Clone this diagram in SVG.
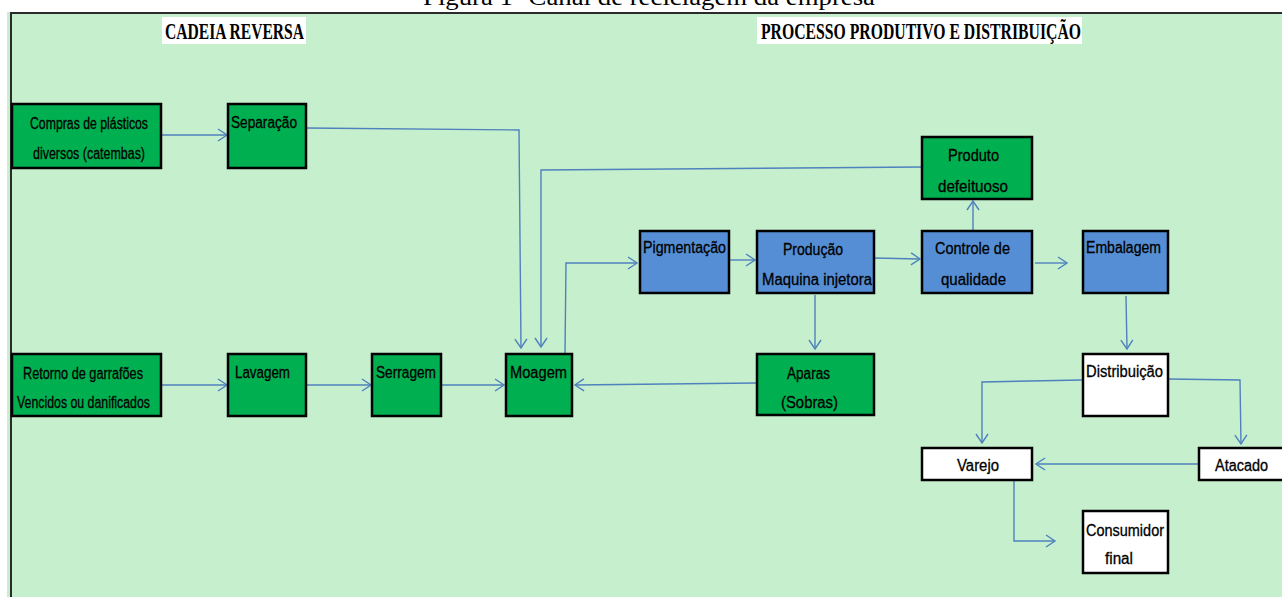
<svg xmlns="http://www.w3.org/2000/svg" width="1282" height="597" viewBox="0 0 1282 597">
<defs>
<style>
.bg{fill:#C6EFCE}
.frame{stroke:#2b2b2b;stroke-width:2;fill:none}
.box{stroke:#000;stroke-width:2.5}
.g{fill:#00B050}
.b{fill:#558ED5}
.w{fill:#FFFFFF}
.t{font-family:"Liberation Sans",Arial,sans-serif;font-size:16px;fill:#000;stroke:#000;stroke-width:0.3}
.h{font-family:"Liberation Serif","Times New Roman",serif;font-size:23px;font-weight:bold;fill:#000}
.cap{font-family:"Liberation Serif","Times New Roman",serif;font-size:24px;fill:#000}
.c{stroke:#4F81BD;stroke-width:1.4;fill:none;marker-end:url(#arr)}
</style>
<marker id="arr" markerUnits="userSpaceOnUse" markerWidth="14" markerHeight="14" refX="11" refY="7" orient="auto">
<path d="M2,1 L11,7 L2,13" fill="none" stroke="#4F81BD" stroke-width="1.4"/>
</marker>
</defs>
<rect x="0" y="0" width="1282" height="597" fill="#FFFFFF"/>
<text class="cap" x="423" y="5" textLength="452" lengthAdjust="spacingAndGlyphs">Figura 1- Canal de reciclagem da empresa</text>
<rect class="bg" x="7" y="12" width="1275" height="585"/>
<path class="frame" d="M11,597 V13 H1282"/>
<g id="header-cadeia">
<rect x="162" y="17" width="144" height="27" fill="#FFFFFF"/>
<text class="h" x="165" y="39" textLength="139" lengthAdjust="spacingAndGlyphs">CADEIA REVERSA</text>
</g>
<g id="header-processo">
<rect x="757" y="17" width="325" height="27" fill="#FFFFFF"/>
<text class="h" x="761" y="39" textLength="320" lengthAdjust="spacingAndGlyphs">PROCESSO PRODUTIVO E DISTRIBUIÇÃO</text>
</g>
<g id="connectors">
<path class="c" d="M162,135 L227,135"/>
<path class="c" d="M306,128 L519,130 L521,348"/>
<path class="c" d="M921,167 L541,170 L541,347"/>
<path class="c" d="M565,353 L566,263 L637,263"/>
<path class="c" d="M162,385 L227,385"/>
<path class="c" d="M306,385 L371,385"/>
<path class="c" d="M441,385 L504,385"/>
<path class="c" d="M756,383 L575,385"/>
<path class="c" d="M729,260 L755,260"/>
<path class="c" d="M874,258 L920,259"/>
<path class="c" d="M973,230 L973,201"/>
<path class="c" d="M1035,263 L1067,263"/>
<path class="c" d="M815,295 L815,349"/>
<path class="c" d="M1126,296 L1127,349"/>
<path class="c" d="M1082,380 L982,382 L982,443"/>
<path class="c" d="M1168,379 L1240,380 L1241,444"/>
<path class="c" d="M1199,464 L1036,464"/>
<path class="c" d="M973,480 L1014,480 L1014,541 L1055,541"/>
</g>
<g id="compras">
<rect class="box g" x="12" y="104" width="149" height="64"/>
<text class="t" x="30" y="129" textLength="118" lengthAdjust="spacingAndGlyphs">Compras de plásticos</text>
<text class="t" x="33" y="159" textLength="112" lengthAdjust="spacingAndGlyphs">diversos (catembas)</text>
</g>
<g id="separacao">
<rect class="box g" x="228" y="104" width="78" height="64"/>
<text class="t" x="231" y="128" textLength="66" lengthAdjust="spacingAndGlyphs">Separação</text>
</g>
<g id="retorno">
<rect class="box g" x="12" y="354" width="149" height="62"/>
<text class="t" x="23" y="379" textLength="120" lengthAdjust="spacingAndGlyphs">Retorno de garrafões</text>
<text class="t" x="17" y="408" textLength="133" lengthAdjust="spacingAndGlyphs">Vencidos ou danificados</text>
</g>
<g id="lavagem">
<rect class="box g" x="228" y="354" width="78" height="62"/>
<text class="t" x="235" y="378" textLength="55" lengthAdjust="spacingAndGlyphs">Lavagem</text>
</g>
<g id="serragem">
<rect class="box g" x="372" y="354" width="69" height="62"/>
<text class="t" x="376" y="378" textLength="60" lengthAdjust="spacingAndGlyphs">Serragem</text>
</g>
<g id="moagem">
<rect class="box g" x="506" y="354" width="66" height="62"/>
<text class="t" x="510" y="378" textLength="57" lengthAdjust="spacingAndGlyphs">Moagem</text>
</g>
<g id="pigmentacao">
<rect class="box b" x="640" y="231" width="89" height="62"/>
<text class="t" x="643" y="253" textLength="83" lengthAdjust="spacingAndGlyphs">Pigmentação</text>
</g>
<g id="producao">
<rect class="box b" x="757" y="231" width="117" height="62"/>
<text class="t" x="783" y="255" textLength="60" lengthAdjust="spacingAndGlyphs">Produção</text>
<text class="t" x="762" y="285" textLength="110" lengthAdjust="spacingAndGlyphs">Maquina injetora</text>
</g>
<g id="controle">
<rect class="box b" x="922" y="231" width="110" height="62"/>
<text class="t" x="935" y="254" textLength="75" lengthAdjust="spacingAndGlyphs">Controle de</text>
<text class="t" x="941" y="285" textLength="65" lengthAdjust="spacingAndGlyphs">qualidade</text>
</g>
<g id="embalagem">
<rect class="box b" x="1083" y="231" width="85" height="62"/>
<text class="t" x="1086" y="253" textLength="75" lengthAdjust="spacingAndGlyphs">Embalagem</text>
</g>
<g id="produto-defeituoso">
<rect class="box g" x="922" y="137" width="110" height="62"/>
<text class="t" x="948" y="161" textLength="51" lengthAdjust="spacingAndGlyphs">Produto</text>
<text class="t" x="938" y="192" textLength="70" lengthAdjust="spacingAndGlyphs">defeituoso</text>
</g>
<g id="aparas">
<rect class="box g" x="757" y="354" width="117" height="61"/>
<text class="t" x="787" y="379" textLength="43" lengthAdjust="spacingAndGlyphs">Aparas</text>
<text class="t" x="781" y="408" textLength="57" lengthAdjust="spacingAndGlyphs">(Sobras)</text>
</g>
<g id="distribuicao">
<rect class="box w" x="1083" y="354" width="85" height="62"/>
<text class="t" x="1086" y="377" textLength="77" lengthAdjust="spacingAndGlyphs">Distribuição</text>
</g>
<g id="varejo">
<rect class="box w" x="922" y="448" width="110" height="32"/>
<text class="t" x="957" y="471" textLength="42" lengthAdjust="spacingAndGlyphs">Varejo</text>
</g>
<g id="atacado">
<rect class="box w" x="1199" y="448" width="90" height="32"/>
<text class="t" x="1215" y="471" textLength="53" lengthAdjust="spacingAndGlyphs">Atacado</text>
</g>
<g id="consumidor">
<rect class="box w" x="1083" y="511" width="85" height="62"/>
<text class="t" x="1086" y="536" textLength="78" lengthAdjust="spacingAndGlyphs">Consumidor</text>
<text class="t" x="1105" y="564" textLength="28" lengthAdjust="spacingAndGlyphs">final</text>
</g>
</svg>
